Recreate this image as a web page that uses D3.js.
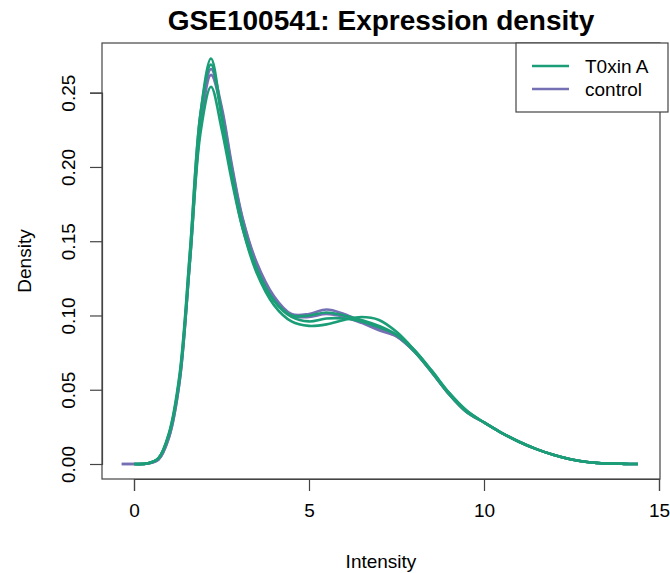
<!DOCTYPE html>
<html>
<head>
<meta charset="utf-8">
<script src="https://cdn.jsdelivr.net/npm/d3@7"></script>
<style>
  body { margin: 0; background: #fff; }
  text { font-family: "Liberation Sans", Arial, sans-serif; fill: #000; }
</style>
</head>
<body>
<script>
// intensity grid shared by every density curve
const xGrid = [-0.35, 0, 0.4, 0.7, 1.0, 1.3, 1.6, 1.9, 2.2, 2.5, 2.8, 3.1, 3.5, 4.0, 4.5, 5.0, 5.5, 6.0, 6.5, 7.0,
               7.5, 8.0, 8.5, 9.0, 9.5, 10.0, 10.5, 11.0, 11.5, 12.0, 12.5, 13.0, 13.5, 14.0, 14.4];

// control samples (drawn first)
const control1 = [0, 0, 0.0004, 0.003, 0.018, 0.055, 0.138, 0.229, 0.266, 0.241, 0.201, 0.166, 0.136, 0.113, 0.101, 0.101, 0.104, 0.101, 0.096, 0.091,
                  0.086, 0.076, 0.062, 0.047, 0.035, 0.028, 0.021, 0.015, 0.010, 0.006, 0.003, 0.0012, 0.0004, 0.0001, 0];
const control2 = [0, 0, 0.0004, 0.003, 0.018, 0.055, 0.137, 0.227, 0.262, 0.239, 0.199, 0.165, 0.135, 0.112, 0.100, 0.099, 0.101, 0.099, 0.095, 0.090,
                  0.086, 0.076, 0.062, 0.047, 0.035, 0.028, 0.021, 0.015, 0.010, 0.006, 0.003, 0.0012, 0.0004, 0.0001, 0];

// T0xin A samples
const toxin1 = [null, 0, 0.0005, 0.004, 0.020, 0.058, 0.142, 0.236, 0.273, 0.236, 0.196, 0.162, 0.132, 0.110, 0.099, 0.096, 0.098, 0.098, 0.096, 0.092,
                0.087, 0.077, 0.063, 0.048, 0.036, 0.028, 0.021, 0.015, 0.010, 0.006, 0.003, 0.0012, 0.0004, 0.0001, 0];
const toxin2 = [null, 0, 0.0005, 0.004, 0.021, 0.060, 0.144, 0.236, 0.269, 0.234, 0.193, 0.159, 0.129, 0.107, 0.096, 0.093, 0.094, 0.097, 0.099, 0.097,
                0.089, 0.077, 0.063, 0.048, 0.036, 0.028, 0.021, 0.015, 0.010, 0.006, 0.003, 0.0012, 0.0004, 0.0001, 0];
const toxin3 = [null, 0, 0.0005, 0.004, 0.020, 0.057, 0.137, 0.223, 0.254, 0.226, 0.190, 0.159, 0.131, 0.110, 0.100, 0.100, 0.102, 0.100, 0.097, 0.093,
                0.087, 0.076, 0.062, 0.047, 0.035, 0.028, 0.021, 0.015, 0.010, 0.006, 0.003, 0.0012, 0.0004, 0.0001, 0];

const xTicks = [0, 5, 10, 15];
const yTicks = [0, 0.05, 0.10, 0.15, 0.20, 0.25];
const groups = ["T0xin A", "control"];
const colors = ["#1B9E77", "#7570B3"];

const series = [
  { group: "control", values: control1 },
  { group: "control", values: control2 },
  { group: "T0xin A", values: toxin1 },
  { group: "T0xin A", values: toxin2 },
  { group: "T0xin A", values: toxin3 }
];

const w = 670, h = 573;
const boxL = 102, boxR = 660, boxT = 43, boxB = 479;

const x = d3.scaleLinear().domain([0, 15]).range([134, 659]);
const y = d3.scaleLinear().domain([0, 0.25]).range([464, 92.7]);
const color = d3.scaleOrdinal().domain(groups).range(colors);

const svg = d3.select("body").append("svg")
  .attr("width", w)
  .attr("height", h);

const line = d3.line()
  .defined(d => d[1] !== null)
  .x(d => x(d[0]))
  .y(d => y(d[1]))
  .curve(d3.curveCatmullRom);

svg.append("g")
  .selectAll("path")
  .data(series)
  .enter()
  .append("path")
  .attr("d", s => line(xGrid.map((v, i) => [v, s.values[i]])))
  .attr("fill", "none")
  .attr("stroke", s => color(s.group))
  .attr("stroke-width", 2.6)
  .attr("stroke-linejoin", "round");

// plot box
svg.append("rect")
  .attr("x", boxL).attr("y", boxT)
  .attr("width", boxR - boxL).attr("height", boxB - boxT)
  .attr("fill", "none").attr("stroke", "#444").attr("stroke-width", 1.2);

// x axis
const xAxis = svg.append("g").attr("transform", `translate(0,${boxB})`)
  .call(d3.axisBottom(x).tickValues(xTicks).tickSize(12).tickPadding(13).tickFormat(d3.format("d")));
xAxis.select(".domain").attr("stroke", "#444").attr("stroke-width", 1.2);
xAxis.selectAll(".tick line").attr("stroke", "#444").attr("stroke-width", 1.2);
xAxis.selectAll("text").style("font-size", "19px").attr("fill", "#111");

// y axis, labels rotated like base R
const yAxis = svg.append("g").attr("transform", `translate(${boxL},0)`)
  .call(d3.axisLeft(y).tickValues(yTicks).tickSize(12).tickFormat(d3.format(".2f")));
yAxis.select(".domain").attr("stroke", "#444").attr("stroke-width", 1.2);
yAxis.selectAll(".tick line").attr("stroke", "#444").attr("stroke-width", 1.2);
yAxis.selectAll(".tick text")
  .attr("x", null).attr("dy", null)
  .attr("text-anchor", "middle")
  .attr("transform", "translate(-34,0) rotate(-90)")
  .attr("dy", "0.35em")
  .style("font-size", "19px").attr("fill", "#111");

// titles
svg.append("text")
  .attr("x", (boxL + boxR) / 2).attr("y", 30)
  .attr("text-anchor", "middle")
  .style("font-size", "28px").style("font-weight", "bold")
  .text("GSE100541: Expression density");

svg.append("text")
  .attr("x", (boxL + boxR) / 2).attr("y", 568)
  .attr("text-anchor", "middle")
  .style("font-size", "19px")
  .text("Intensity");

svg.append("text")
  .attr("transform", `translate(24,${(boxT + boxB) / 2}) rotate(-90)`)
  .attr("text-anchor", "middle")
  .attr("dy", "0.35em")
  .style("font-size", "19px")
  .text("Density");

// legend
const legend = svg.append("g");
legend.append("rect")
  .attr("x", 516).attr("y", 43).attr("width", 152).attr("height", 69)
  .attr("fill", "#fff").attr("stroke", "#444").attr("stroke-width", 1.2);

const items = legend.selectAll("g.item")
  .data(groups)
  .enter()
  .append("g")
  .attr("class", "item")
  .attr("transform", (d, i) => `translate(0,${66 + i * 23})`);

items.append("line")
  .attr("x1", 532).attr("x2", 569)
  .attr("stroke", d => color(d))
  .attr("stroke-width", 2.6);

items.append("text")
  .attr("x", 585)
  .attr("dy", "0.35em")
  .style("font-size", "19px")
  .text(d => d);
</script>
</body>
</html>
